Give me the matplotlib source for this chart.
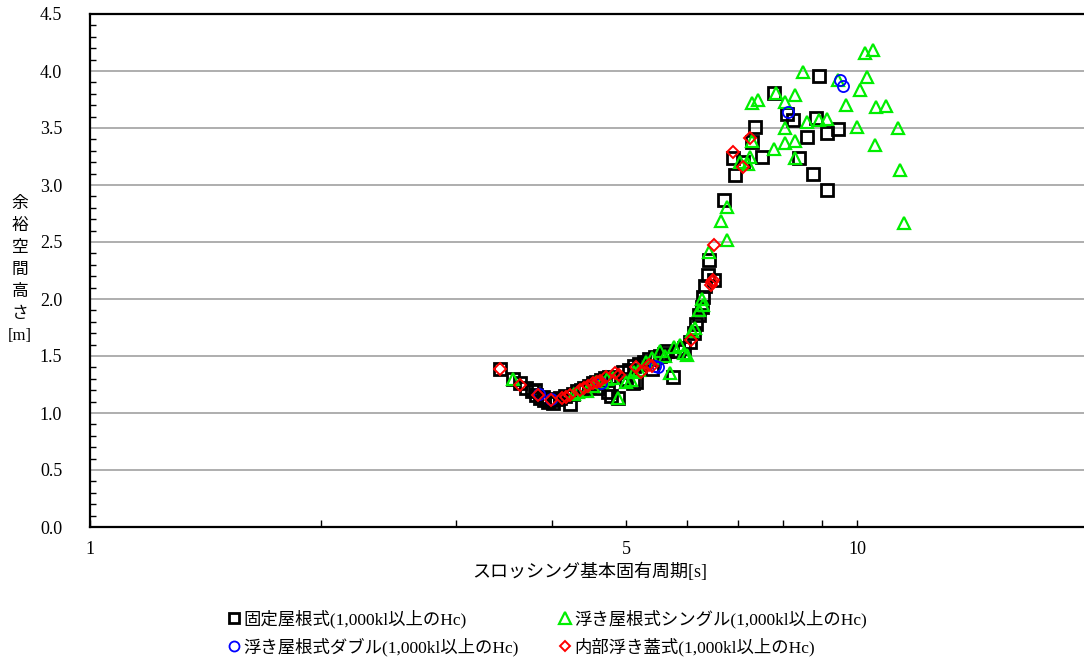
import matplotlib
matplotlib.use("Agg")
import matplotlib.pyplot as plt
from matplotlib.ticker import FixedLocator, NullFormatter, FixedFormatter, MultipleLocator

plt.rcParams['font.family'] = ['Liberation Serif', 'Noto Sans CJK JP', 'DejaVu Sans']

# ---- data: (natural sloshing period [s], freeboard [m]) ----
fixed_T = [3.42, 3.56, 3.64, 3.70, 3.77, 3.82, 3.86, 3.91, 3.96, 4.00, 4.05, 4.10, 4.16, 4.22,
           4.26, 4.31, 4.36, 4.41, 4.47, 4.52, 4.57, 4.63, 4.69, 4.75, 4.73, 4.78, 4.88, 4.95,
           5.05, 5.10, 5.12, 5.15, 5.20, 5.28, 5.36, 5.45, 5.53, 5.60, 5.66, 5.75, 5.85, 5.95,
           6.05, 6.12, 6.17, 6.22, 6.28, 6.30, 6.33, 6.40, 6.42, 6.50, 6.70, 6.88, 6.93, 7.10,
           7.30, 7.37, 7.52, 7.79, 8.10, 8.25, 8.40, 8.60, 8.75, 8.85, 8.92, 9.15, 9.45, 9.15,
           3.80, 3.90, 4.02, 4.60, 5.00, 5.40]
fixed_H = [1.39, 1.30, 1.26, 1.22, 1.19, 1.16, 1.13, 1.11, 1.10, 1.11, 1.12, 1.13, 1.15, 1.08,
           1.17, 1.19, 1.20, 1.22, 1.24, 1.26, 1.27, 1.29, 1.31, 1.32, 1.18, 1.15, 1.13, 1.36,
           1.38, 1.26, 1.41, 1.27, 1.43, 1.45, 1.47, 1.49, 1.50, 1.52, 1.54, 1.32, 1.54, 1.57,
           1.62, 1.70, 1.78, 1.86, 1.93, 2.02, 2.11, 2.21, 2.34, 2.17, 2.87, 3.24, 3.09, 3.20,
           3.38, 3.51, 3.25, 3.81, 3.62, 3.57, 3.24, 3.42, 3.10, 3.59, 3.96, 3.46, 3.49, 2.96,
           1.20, 1.14, 1.09, 1.22, 1.30, 1.39]

single_T = [3.56, 4.28, 4.33, 4.45, 4.52, 4.57, 4.65, 4.72, 4.80, 4.88, 5.00, 5.08, 5.12, 5.20,
            5.30, 5.40, 5.54, 5.62, 5.70, 5.78, 5.88, 5.95, 6.00, 6.10, 6.15, 6.22, 6.28, 6.30,
            6.42, 6.65, 6.76, 6.76, 7.04, 7.20, 7.25, 7.30, 7.30, 7.42, 7.79, 7.85, 8.05, 8.05,
            8.05, 8.30, 8.30, 8.30, 8.50, 8.60, 8.92, 9.15, 9.45, 9.67, 10.0, 10.1, 10.25, 10.3,
            10.5, 10.55, 10.6, 10.9, 11.3, 11.38, 11.5]
single_H = [1.30, 1.17, 1.18, 1.19, 1.24, 1.27, 1.27, 1.30, 1.31, 1.13, 1.27, 1.29, 1.36, 1.38,
            1.45, 1.48, 1.54, 1.50, 1.35, 1.58, 1.60, 1.53, 1.51, 1.72, 1.75, 1.90, 2.00, 1.95,
            2.41, 2.68, 2.81, 2.52, 3.20, 3.18, 3.25, 3.39, 3.72, 3.75, 3.32, 3.81, 3.37, 3.73,
            3.50, 3.79, 3.39, 3.24, 3.99, 3.55, 3.57, 3.58, 3.92, 3.70, 3.51, 3.83, 4.16, 3.95,
            4.18, 3.35, 3.68, 3.69, 3.50, 3.13, 2.67]

double_T = [3.85, 3.99, 4.64, 5.45, 5.50, 8.12, 9.50, 9.60]
double_H = [1.17, 1.12, 1.26, 1.41, 1.40, 3.64, 3.92, 3.87]

inner_T = [3.42, 3.64, 3.84, 3.99, 4.12, 4.18, 4.23, 4.35, 4.40, 4.46, 4.52, 4.58, 4.62, 4.70,
           4.83, 4.90, 5.15, 5.22, 5.35, 5.40, 6.08, 6.45, 6.47, 6.48, 6.50, 6.88, 7.09, 7.25]
inner_H = [1.39, 1.25, 1.16, 1.11, 1.13, 1.14, 1.16, 1.20, 1.22, 1.24, 1.26, 1.27, 1.28, 1.32,
           1.35, 1.33, 1.40, 1.36, 1.42, 1.41, 1.64, 2.12, 2.15, 2.17, 2.47, 3.29, 3.16, 3.41]

labels = ['固定屋根式(1,000kl以上のHc)', '浮き屋根式シングル(1,000kl以上のHc)',
          '浮き屋根式ダブル(1,000kl以上のHc)', '内部浮き蓋式(1,000kl以上のHc)']
xlabel = 'スロッシング基本固有周期[s]'
ylabel = '余裕空間高さ[m]'

fig = plt.figure(figsize=(10.84, 6.61), dpi=100)
ax = fig.add_axes([90/1084, 1-527/661, (1088-90)/1084, (527-14)/661])

h1, = ax.plot(fixed_T, fixed_H, ls='none', marker='s', ms=8.5, mfc='none', mec='black', mew=2.0,
              label=labels[0], zorder=3)
h2, = ax.plot(single_T, single_H, ls='none', marker='^', ms=9, mfc='none', mec='#00ee00', mew=1.6,
              label=labels[1], zorder=4)
h3, = ax.plot(double_T, double_H, ls='none', marker='o', ms=8, mfc='none', mec='#0000ff', mew=1.3,
              label=labels[2], zorder=5)
h4, = ax.plot(inner_T, inner_H, ls='none', marker='D', ms=6, mfc='none', mec='#ff0000', mew=1.4,
              label=labels[3], zorder=6)

ax.set_xscale('log')
ax.set_xlim(1, 20)
ax.set_ylim(0, 4.5)

ax.xaxis.set_major_locator(FixedLocator([1, 5, 10]))
ax.xaxis.set_major_formatter(FixedFormatter(['1', '5', '10']))
ax.xaxis.set_minor_locator(FixedLocator([2, 3, 4, 6, 7, 8, 9]))
ax.xaxis.set_minor_formatter(NullFormatter())
ax.yaxis.set_major_locator(MultipleLocator(0.5))
ax.yaxis.set_minor_locator(MultipleLocator(0.1))
ax.yaxis.set_major_formatter(plt.FuncFormatter(lambda v, p: f'{v:.1f}'))

ax.tick_params(axis='both', which='both', direction='in', labelsize=13, colors='black')
ax.tick_params(axis='x', which='both', length=5, width=1, pad=10)
ax.tick_params(axis='y', which='major', length=0, pad=20)
ax.tick_params(axis='y', which='minor', length=4, width=1)

ax.grid(axis='y', which='major', color='#999999', lw=1.1)
ax.set_axisbelow(True)
for s in ['left', 'bottom', 'top']:
    ax.spines[s].set_linewidth(1.6)
    ax.spines[s].set_color('black')
ax.spines['right'].set_visible(False)

fig.text(590/1084, 1-572/661, xlabel, ha='center', va='center', fontsize=13)
fig.text(20/1084, 1-270/661, '\n'.join(['余', '裕', '空', '間', '高', 'さ', '[m]']),
         ha='center', va='center', fontsize=12, linespacing=1.5)

fig.legend(handles=[h1, h3, h2, h4], loc='center', bbox_to_anchor=(547/1084, 1-633/661),
           ncol=2, frameon=False, fontsize=12.5, handletextpad=0.1, columnspacing=2.2,
           handlelength=0.9, markerscale=0.9, labelspacing=0.55)

fig.savefig('out.png', dpi=100)
